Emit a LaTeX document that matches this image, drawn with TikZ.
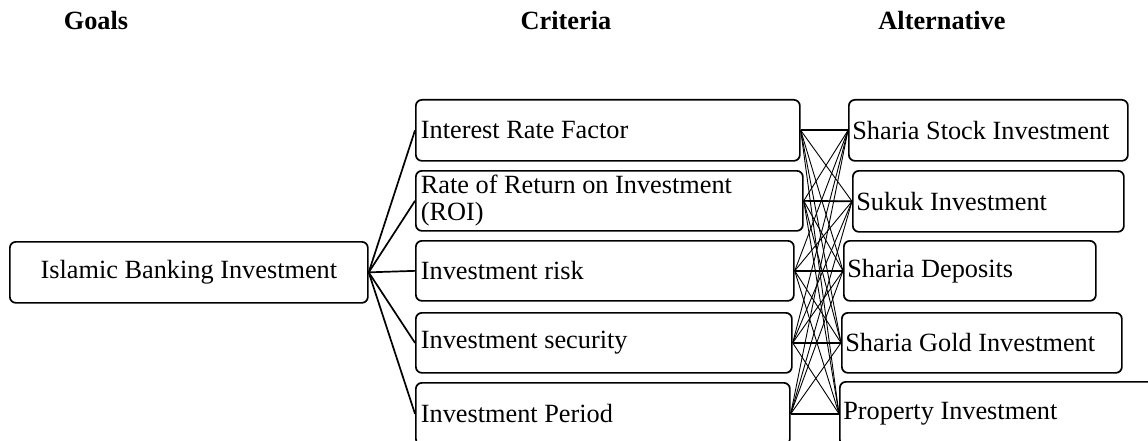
\documentclass[tikz,border=0pt]{standalone}
\usepackage{fontspec}
\setmainfont{Liberation Serif}
\begin{document}
\begin{tikzpicture}[x=1pt,y=-1pt,
  every node/.style={font=\fontsize{26.3}{27}\selectfont},
  boxbase/.style={draw, line width=1.7pt, rounded corners=6pt, anchor=north west, inner ysep=0pt},
  plainspace/.style={execute at begin node={\spaceskip=0pt\relax\xspaceskip=0pt\relax}},
  critbox/.style={boxbase, plainspace, inner xsep=5pt, align=left, text width=#1},
  altbox/.style={boxbase, plainspace, inner xsep=3.5pt, align=left, text width=#1},
  goalbox/.style={boxbase, align=center, minimum width=358pt, minimum height=61pt},
  heading/.style={anchor=base, font=\fontsize{26.3}{27}\selectfont\bfseries},
  trunk/.style={line width=1.7pt},
  mesh/.style={line width=0.9pt},
  level/.style={line width=1.7pt}]

\useasboundingbox (0,0) rectangle (1148,441);
\clip (0,0) rectangle (1148,441);

% column headings
\node[heading] (hgoal) at (96,30) {Goals};
\node[heading] (hcrit) at (566,30) {Criteria};
\node[heading] (halt)  at (942,30) {Alternative};

% goal
\node[goalbox] (g) at (9,241) {Islamic Banking Investment};

% criteria
\node[critbox=374pt, minimum height=61pt] (c1) at (415,99)  {Interest Rate Factor};
\node[critbox=377pt, minimum height=60pt] (c2) at (415,170) {Rate of Return on Investment\\(ROI)};
\node[critbox=368pt, minimum height=60pt] (c3) at (415,240) {Investment risk};
\node[critbox=366pt, minimum height=60pt] (c4) at (415,312) {Investment security};
\node[critbox=364pt, minimum height=62pt] (c5) at (415,382) {Investment Period};

% alternatives
\node[altbox=272pt, minimum height=61pt] (a1) at (848,99)  {Sharia Stock Investment};
\node[altbox=264pt, minimum height=61pt] (a2) at (852,170) {Sukuk Investment};
\node[altbox=245pt, minimum height=60pt] (a3) at (843,240) {Sharia Deposits};
\node[altbox=273pt, minimum height=60pt] (a4) at (841,312) {Sharia Gold Investment};
\node[altbox=323pt, minimum height=64pt] (a5) at (839,381) {Property Investment};

% goal to criteria
\foreach \c in {1,...,5} \draw[trunk] (g.east) -- (c\c.west);

% every criterion to every alternative
\foreach \c in {1,...,5}{
  \foreach \a in {1,...,5}{
    \draw[mesh] (c\c.east) -- (a\a.west);
  }
}
\foreach \i in {1,...,5} \draw[level] (c\i.east) -- (a\i.west);

\end{tikzpicture}
\end{document}
